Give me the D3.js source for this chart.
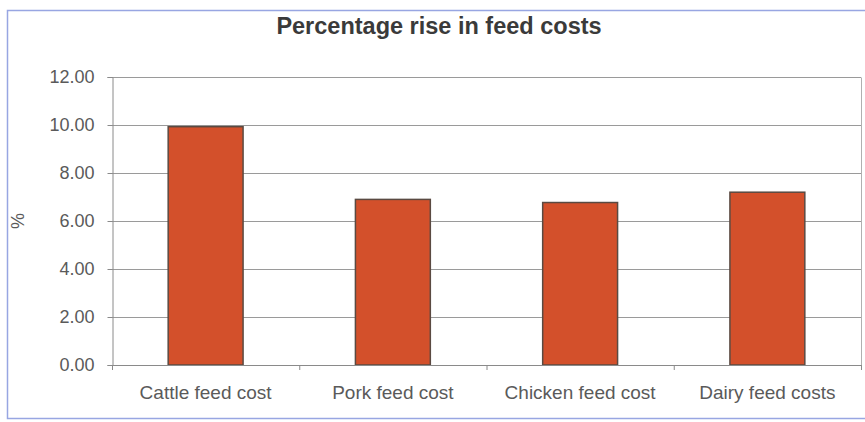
<!DOCTYPE html>
<html>
<head>
<meta charset="utf-8">
<script src="https://cdn.jsdelivr.net/npm/d3@7"></script>
<style>
  html, body { margin: 0; padding: 0; background: #ffffff; }
  svg { display: block; }
  text { font-family: Arial, "Liberation Sans", sans-serif; }
</style>
</head>
<body>
<svg id="chart" width="865" height="422"></svg>
<script>
// Feed cost increases by category (%)
const categories = ["Cattle feed cost", "Pork feed cost", "Chicken feed cost", "Dairy feed costs"];
const riseValues = [9.93, 6.9, 6.77, 7.2];
const yTicks = [0, 2, 4, 6, 8, 10, 12];
const chartTitle = "Percentage rise in feed costs";
const yAxisTitle = "%";

const svg = d3.select("#chart");
const W = 865, H = 422;
const margin = { left: 112, right: 4, top: 77, bottom: 57 };
const plotRight = W - margin.right;
const plotBottom = H - margin.bottom;

// outer chart frame
svg.append("rect")
  .attr("x", 7.5).attr("y", 10.5)
  .attr("width", 900).attr("height", 408)
  .attr("fill", "#ffffff")
  .attr("stroke", "#98a6e2")
  .attr("stroke-width", 1.5);

const x = d3.scaleBand()
  .domain(categories)
  .range([margin.left, plotRight])
  .paddingInner(0.6)
  .paddingOuter(0.3);

const y = d3.scaleLinear()
  .domain([0, 12])
  .range([plotBottom, margin.top]);

// horizontal gridlines
svg.append("g")
  .selectAll("line")
  .data(yTicks.filter(t => t > 0))
  .join("line")
  .attr("x1", margin.left).attr("x2", plotRight)
  .attr("y1", d => Math.round(y(d)) + 0.5)
  .attr("y2", d => Math.round(y(d)) + 0.5)
  .attr("stroke", "#9a9a9a")
  .attr("stroke-width", 1);

// right edge of plot area
svg.append("line")
  .attr("x1", plotRight + 0.5).attr("x2", plotRight + 0.5)
  .attr("y1", Math.round(y(12)) + 0.5).attr("y2", plotBottom)
  .attr("stroke", "#b0b0b0");

// y axis
const yAxis = d3.axisLeft(y)
  .tickValues(yTicks)
  .tickFormat(d3.format(".2f"))
  .tickSize(5)
  .tickPadding(13);
const gy = svg.append("g")
  .attr("transform", `translate(${margin.left + 0.5},0)`)
  .call(yAxis);
gy.select(".domain").attr("stroke", "#8a8a8a");
gy.selectAll(".tick line").attr("stroke", "#8a8a8a");
gy.selectAll(".tick text")
  .attr("fill", "#5a5a5a")
  .style("font-size", "18px");

// bars
svg.append("g")
  .selectAll("rect")
  .data(riseValues)
  .join("rect")
  .attr("x", (d, i) => x(categories[i]))
  .attr("y", d => y(d))
  .attr("width", x.bandwidth())
  .attr("height", d => plotBottom - y(d))
  .attr("fill", "#d3502b")
  .attr("stroke", "#5a4a42")
  .attr("stroke-width", 1.5);

// x axis with ticks between categories
const bandStart = i => margin.left + i * ((plotRight - margin.left) / categories.length);
const gx = svg.append("g");
gx.append("line")
  .attr("x1", margin.left).attr("x2", plotRight)
  .attr("y1", plotBottom + 0.5).attr("y2", plotBottom + 0.5)
  .attr("stroke", "#8a8a8a");
gx.selectAll("line.tk")
  .data(d3.range(categories.length + 1))
  .join("line")
  .attr("class", "tk")
  .attr("x1", i => bandStart(i) + 0.5).attr("x2", i => bandStart(i) + 0.5)
  .attr("y1", plotBottom).attr("y2", plotBottom + 5)
  .attr("stroke", "#8a8a8a");
gx.selectAll("text")
  .data(categories)
  .join("text")
  .attr("x", d => x(d) + x.bandwidth() / 2)
  .attr("y", plotBottom + 34)
  .attr("text-anchor", "middle")
  .attr("fill", "#5a5a5a")
  .style("font-size", "19px")
  .text(d => d);

// y axis title
svg.append("text")
  .attr("transform", `translate(24, ${y(6)}) rotate(-90)`)
  .attr("text-anchor", "middle")
  .attr("fill", "#5a5a5a")
  .style("font-size", "18px")
  .text(yAxisTitle);

// chart title
svg.append("text")
  .attr("x", 439)
  .attr("y", 34)
  .attr("text-anchor", "middle")
  .attr("fill", "#3a3a3a")
  .style("font-size", "23.5px")
  .style("font-weight", "bold")
  .text(chartTitle);
</script>
</body>
</html>
